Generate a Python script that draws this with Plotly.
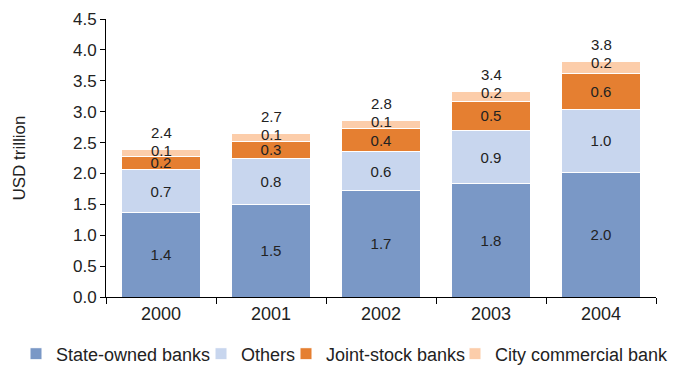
import plotly.graph_objects as go

years = ["2000", "2001", "2002", "2003", "2004"]
state_owned = [1.36, 1.49, 1.72, 1.83, 2.02]
others = [0.71, 0.76, 0.63, 0.87, 1.02]
joint_stock = [0.21, 0.27, 0.37, 0.46, 0.57]
city_commercial = [0.10, 0.12, 0.14, 0.17, 0.21]
total_labels = ["2.4", "2.7", "2.8", "3.4", "3.8"]

series = [
    ("State-owned banks", state_owned, "#7A98C6"),
    ("Others", others, "#C8D6EE"),
    ("Joint-stock banks", joint_stock, "#E57F31"),
    ("City commercial bank", city_commercial, "#FCCDAA"),
]
# left edge (px) of each legend box in the 683px-wide page
legend_left_px = [16, 201, 286, 455]

FONT = "Liberation Sans, Arial, sans-serif"
TXT = "#222222"
fig = go.Figure()
legend_ids = ["legend", "legend2", "legend3", "legend4"]
for k, ((name, vals, color), lid) in enumerate(zip(series, legend_ids)):
    is_top = k == len(series) - 1
    fig.add_trace(go.Bar(
        x=years, y=vals, name=name, legend=lid,
        marker=dict(color=color, line=dict(color="white", width=1)),
        text=[f"{v:.1f}" for v in vals],
        textposition="none" if is_top else "inside", insidetextanchor="middle",
        constraintext="none", textangle=0,
        textfont=dict(family=FONT, size=15, color=TXT),
        hoverinfo="skip",
    ))

tops = [a + b + c + d for a, b, c, d in zip(state_owned, others, joint_stock, city_commercial)]
for i, (top, v) in enumerate(zip(tops, city_commercial)):
    fig.add_annotation(x=i, y=top, text=f"{v:.1f}", showarrow=False, yanchor="middle",
                       yshift=-1, font=dict(family=FONT, size=15, color=TXT))
for i, (top, lab) in enumerate(zip(tops, total_labels)):
    fig.add_annotation(x=i, y=top, text=lab, showarrow=False, yanchor="middle",
                       yshift=17, font=dict(family=FONT, size=15, color=TXT))

layout_legends = {}
for lid, left in zip(legend_ids, legend_left_px):
    layout_legends[lid] = dict(
        orientation="h", x=left / 683, xref="container", xanchor="left",
        y=1 - 354 / 365, yref="container", yanchor="middle",
        font=dict(family=FONT, size=18, color=TXT),
        itemwidth=30, bgcolor="rgba(0,0,0,0)",
    )

fig.update_layout(
    barmode="stack", bargap=0.29,
    width=683, height=365,
    margin=dict(l=106, r=27, t=19, b=68, autoexpand=False),
    paper_bgcolor="white", plot_bgcolor="white",
    font=dict(family=FONT, size=16, color=TXT),
    showlegend=True,
    **layout_legends,
)
fig.update_yaxes(range=[0, 4.5], dtick=0.5, tickformat=".1f",
                 showline=True, linecolor="black", linewidth=1,
                 ticks="outside", ticklen=5, tickcolor="black",
                 showgrid=False, zeroline=False,
                 tickfont=dict(family=FONT, size=17, color=TXT),
                 title=dict(text="USD trillion", standoff=43,
                            font=dict(family=FONT, size=17, color=TXT)))
fig.update_xaxes(type="category", range=[-0.5, 4.5], showline=True, linecolor="black", linewidth=1,
                 ticks="outside", ticklen=6, tickcolor="black",
                 tickson="boundaries", showgrid=False,
                 tickfont=dict(family=FONT, size=18, color=TXT))

fig.write_html("out.html")
